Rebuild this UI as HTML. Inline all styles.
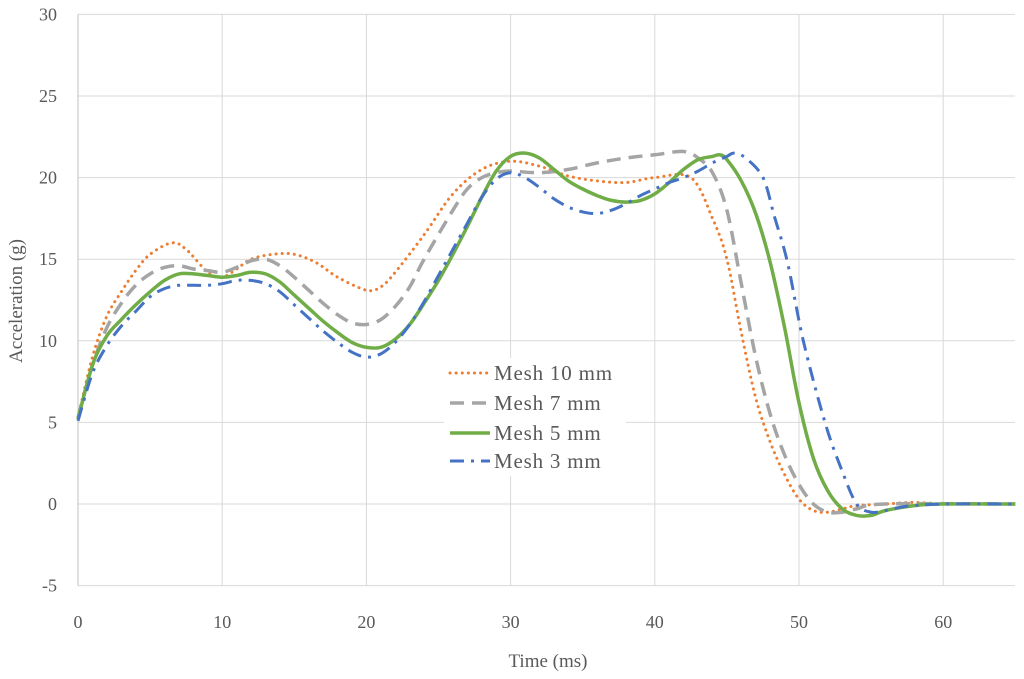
<!DOCTYPE html>
<html><head><meta charset="utf-8"><style>
html,body{margin:0;padding:0;background:#fff;}
svg{display:block;font-family:"Liberation Serif",serif;}
</style></head><body>
<svg id="chart" width="1024" height="679" viewBox="0 0 1024 679">
<g id="grid"></g>
<g id="axes"></g>
<g id="series"></g>
<text x="548" y="667" text-anchor="middle" font-size="19" fill="#595959">Time (ms)</text>
<text transform="translate(22,301) rotate(-90)" text-anchor="middle" font-size="19" fill="#595959">Acceleration (g)</text>
<g id="legend"></g>
</svg>
<script>
const xTicks=[0,10,20,30,40,50,60];
const yTicks=[-5,0,5,10,15,20,25,30];
const seriesNames=["Mesh 10 mm","Mesh 7 mm","Mesh 5 mm","Mesh 3 mm"];
const t10=[0,1,2,3,4,5,6.5,7.5,9,10,11,12,13.5,15,16.5,18,20,21,22,24,26,28,30,32,34,36,38,40,42.5,44,45,46,47,48,49,50,51,52,53,54,56,58,60,65];
const y10=[5.3,9,11.5,13,14.3,15.3,16,15.6,14.2,13.9,14.4,15,15.3,15.3,14.8,13.9,13.1,13.3,14.2,16.5,19,20.5,21,20.7,20.1,19.8,19.7,20,20,17.5,15,10.5,6.5,3.8,1.8,0.3,-0.4,-0.5,-0.3,-0.1,0,0.1,0,0];
const t7=[0,1,2,3,4,5,6,7,8,9,10,11,12,13,14,15,16,17,18,19,20,21,22,23,24,26,27,28,29,30,32,34,36,38,40,42,43,44,45,46,47,48,49,50,51,52,53,54,56,65];
const y7=[5.3,8.5,10.8,12.3,13.4,14.1,14.5,14.6,14.4,14.3,14.2,14.5,14.9,15,14.6,13.9,13.1,12.3,11.6,11.1,11,11.3,12.1,13.3,15,18,19.3,20,20.3,20.4,20.3,20.5,20.9,21.2,21.4,21.6,21.2,20.3,18,13.5,9,5.5,3,1.2,0,-0.5,-0.5,-0.3,0,0];
const t5=[0,1,2,3,4,5,6,7,8,9,10,11,12,13,14,15,16,17,18,19,20,21,22,23,24,25,26,27,28,29,30,31,32,33,34,35,36,37,38,39,40,41,42,43,44,44.5,45,46,47,48,49,50,51,52,53,54,55,56,58,60,65];
const y5=[5.2,8.5,10.3,11.3,12.2,13,13.7,14.1,14.1,14,13.9,14,14.2,14.1,13.6,12.8,12,11.2,10.5,9.9,9.6,9.6,10.1,11,12.3,13.7,15.3,17,18.8,20.4,21.3,21.5,21.2,20.5,19.8,19.3,18.9,18.6,18.5,18.6,19,19.7,20.5,21.1,21.3,21.4,21.1,19.8,17.8,14.8,10.8,6.2,2.8,0.8,-0.3,-0.7,-0.7,-0.4,-0.1,0,0];
const t3=[0,1,2,3,4,5,6,7,8,9,10,11,12,13,14,15,16,17,18,19,20,21,22,23,24,25,26,27,28,29,30,31,32,33,34,35,36,37,38,39,40,41,42,43,44,45,45.5,46.3,47.5,48.3,49.2,50.3,51.8,53,54,55,56,57,58,60,65];
const y3=[5.1,8,9.7,10.9,11.8,12.7,13.2,13.4,13.4,13.4,13.5,13.7,13.7,13.5,13,12.2,11.4,10.6,9.9,9.3,9,9.2,9.9,11,12.4,14,15.6,17.2,18.8,19.9,20.3,20,19.4,18.7,18.2,17.9,17.8,18,18.4,18.9,19.3,19.7,20,20.4,20.9,21.3,21.5,21.2,20,17.6,14.8,10,5,2,0,-0.5,-0.4,-0.2,-0.1,0,0];
const NS="http://www.w3.org/2000/svg";
const X0=78,X1=1015,Y0=504,PXU=14.42,PYU=16.32;
function sx(v){return X0+v*PXU;}
function sy(v){return Y0-v*PYU;}
function mk(tag,attrs,parent){const e=document.createElementNS(NS,tag);for(const k in attrs)e.setAttribute(k,attrs[k]);parent.appendChild(e);return e;}
const grid=document.getElementById('grid'),axes=document.getElementById('axes'),ser=document.getElementById('series'),leg=document.getElementById('legend');
yTicks.forEach(v=>{
 const l=mk('line',{x1:X0,x2:X1,y1:sy(v),y2:sy(v),stroke:'#d9d9d9','stroke-width':1},grid);
 
 
 const t=mk('text',{x:57,y:sy(v)+6,'text-anchor':'end','font-size':18,fill:'#595959'},axes);
 t.textContent=v;
 
 
});
xTicks.forEach(v=>{
 if(v>0){const l=mk('line',{x1:sx(v),x2:sx(v),y1:sy(30),y2:sy(-5),stroke:'#d9d9d9','stroke-width':1},grid);
 
 }
 const t=mk('text',{x:sx(v),y:628,'text-anchor':'middle','font-size':18,fill:'#595959'},axes);
 t.textContent=v;
 
 
});
const ax=mk('line',{x1:X0,x2:X0,y1:sy(30),y2:sy(-5),stroke:'#bfbfbf','stroke-width':1},axes);


function path(ts,ys){
 const p=ts.map((t,i)=>[sx(t),sy(ys[i])]);
 let d='M'+p[0][0].toFixed(1)+','+p[0][1].toFixed(1);
 for(let i=0;i<p.length-1;i++){
  const a=p[i-1]||p[i],b=p[i],c=p[i+1],e=p[i+2]||c;
  const c1=[b[0]+(c[0]-a[0])/6,b[1]+(c[1]-a[1])/6],c2=[c[0]-(e[0]-b[0])/6,c[1]-(e[1]-b[1])/6];
  d+='C'+c1[0].toFixed(1)+','+c1[1].toFixed(1)+' '+c2[0].toFixed(1)+','+c2[1].toFixed(1)+' '+c[0].toFixed(1)+','+c[1].toFixed(1);
 }
 return d;
}
const styles=[
 {stroke:'#ed7d31',w:3,dash:'0.1 6',cap:'round'},
 {stroke:'#a5a5a5',w:3.5,dash:'14 8',cap:'butt'},
 {stroke:'#70ad47',w:3.5,dash:'none',cap:'butt'},
 {stroke:'#4472c4',w:3,dash:'14 7 3 7',cap:'butt'}];
const data=[[t10,y10],[t7,y7],[t5,y5],[t3,y3]];
const names=['series-mesh-10mm','series-mesh-7mm','series-mesh-5mm','series-mesh-3mm'];
data.forEach((s,i)=>{
 const st=styles[i];
 const p=mk('path',{d:path(s[0],s[1]),fill:'none',stroke:st.stroke,'stroke-width':st.w,'stroke-dasharray':st.dash,'stroke-linecap':st.cap},ser);
 
 
});
const bg=mk('rect',{x:444,y:358,width:182,height:118,fill:'#fff'},leg);


const ly=[373,403,433,461];
seriesNames.forEach((n,i)=>{
 const st=styles[i];
 const l=mk('line',{x1:450,x2:490,y1:ly[i],y2:ly[i],stroke:st.stroke,'stroke-width':st.w,'stroke-dasharray':st.dash,'stroke-linecap':st.cap},leg);
 
 
 const t=mk('text',{x:494,y:ly[i]+7,'font-size':21,'letter-spacing':'0.8',fill:'#595959'},leg);
 t.textContent=n;
 
 
});
</script>
</body></html>
